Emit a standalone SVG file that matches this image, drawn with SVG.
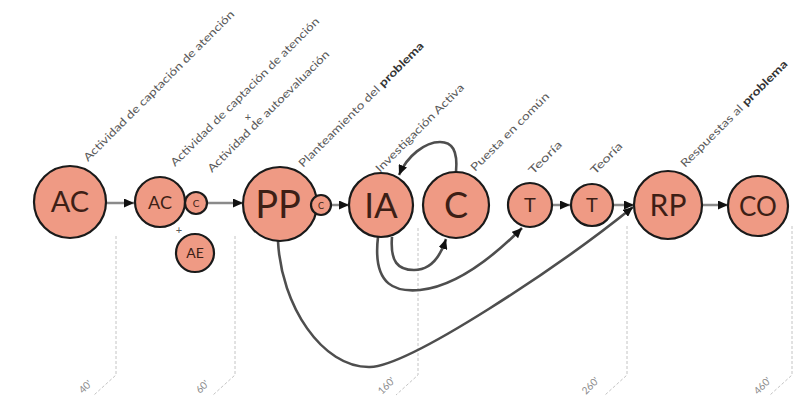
<svg xmlns="http://www.w3.org/2000/svg" width="796" height="404" viewBox="0 0 796 404">
<style>
.n{fill:#ef9a84;stroke:#1a1a1a;stroke-width:2.2}
.t{font-family:Lato,"Liberation Sans",sans-serif;font-weight:400;fill:#3d1f16;text-anchor:middle}
.l{font-family:Lato,"Liberation Sans",sans-serif;font-size:11px;fill:#5a5a5a}
.s{stroke:#8a8a8a;stroke-width:2.5;fill:none}
.c{stroke:#4e4e4e;stroke-width:2.6;fill:none}
.d{stroke:#c4c4c4;stroke-width:1;stroke-dasharray:3 2;fill:none}
.m{font-family:Lato,"Liberation Sans",sans-serif;font-size:10px;fill:#8a8a8a}
</style>
<defs>
<marker id="a" markerUnits="userSpaceOnUse" markerWidth="11" markerHeight="9" refX="10" refY="4.5" orient="auto">
<path d="M0,0 L10,4.5 L0,9 z" fill="#111"/>
</marker>
</defs>
<rect width="796" height="404" fill="#fff"/>
<g id="timeline">
<path class="d" d="M116,236 V375 L94,395"/>
<path class="d" d="M235,236 V375 L213,395"/>
<path class="d" d="M418,228 V375 L396,395"/>
<path class="d" d="M627,226 V375 L605,395"/>
<path class="d" d="M792,226 V375 L770,395"/>
<text class="m" x="83" y="394" transform="rotate(-45 83 394)">40'</text>
<text class="m" x="200" y="394" transform="rotate(-45 200 394)">60'</text>
<text class="m" x="382" y="395" transform="rotate(-45 382 395)">160'</text>
<text class="m" x="586" y="395" transform="rotate(-45 586 395)">260'</text>
<text class="m" x="758" y="395" transform="rotate(-45 758 395)">460'</text>
</g>
<g id="labels">
<text class="l" x="88" y="162" textLength="208" lengthAdjust="spacingAndGlyphs" transform="rotate(-45 88 162)">Actividad de captación de atención</text>
<text class="l" x="175" y="167" textLength="205" lengthAdjust="spacingAndGlyphs" transform="rotate(-45 175 167)">Actividad de captación de atención</text>
<text class="l" x="248" y="121" text-anchor="middle">+</text>
<text class="l" x="212" y="173" textLength="167" lengthAdjust="spacingAndGlyphs" transform="rotate(-45 212 173)">Actividad de autoevaluación</text>
<text class="l" x="303" y="168" textLength="172" lengthAdjust="spacingAndGlyphs" transform="rotate(-45 303 168)">Planteamiento del <tspan font-weight="bold" fill="#333">problema</tspan></text>
<text class="l" x="380" y="173" textLength="120" lengthAdjust="spacingAndGlyphs" transform="rotate(-45 380 173)">Investigación Activa</text>
<text class="l" x="475" y="172" textLength="106" lengthAdjust="spacingAndGlyphs" transform="rotate(-45 475 172)">Puesta en común</text>
<text class="l" x="533" y="175" textLength="42" lengthAdjust="spacingAndGlyphs" transform="rotate(-45 533 175)">Teoría</text>
<text class="l" x="595" y="175" textLength="40" lengthAdjust="spacingAndGlyphs" transform="rotate(-45 595 175)">Teoría</text>
<text class="l" x="685" y="168" textLength="146" lengthAdjust="spacingAndGlyphs" transform="rotate(-45 685 168)">Respuestas al <tspan font-weight="bold" fill="#333">problema</tspan></text>
</g>
<g id="connectors">
<line class="s" x1="107" y1="203" x2="134" y2="203" marker-end="url(#a)"/>
<line class="s" x1="207" y1="203" x2="243" y2="203" marker-end="url(#a)"/>
<line class="s" x1="331" y1="205" x2="349" y2="205" marker-end="url(#a)"/>
<line class="s" x1="552" y1="205" x2="570" y2="205" marker-end="url(#a)"/>
<line class="s" x1="613" y1="205" x2="634" y2="205" marker-end="url(#a)"/>
<line class="s" x1="702" y1="205" x2="728" y2="205" marker-end="url(#a)"/>
<path class="c" d="M456,172 C458,150 452,142 440,142 C425,142 407,156 399,175" marker-end="url(#a)"/>
<path class="c" d="M392,237 C390,262 398,270 414,270 C430,270 440,258 446,239" marker-end="url(#a)"/>
<path class="c" d="M378,237 C372,288 398,292 420,290 C460,286 500,250 522,228" marker-end="url(#a)"/>
<path class="c" d="M278,241 C281,305 322,368 370,367 C410,366 560,266 633,207" marker-end="url(#a)"/>
<text class="l" x="179" y="234" text-anchor="middle" font-size="10">+</text>
</g>
<g id="AC1"><circle class="n" cx="70" cy="202" r="36"/><text class="t" x="70" y="212" font-size="29">AC</text></g>
<g id="AC2"><circle class="n" cx="160" cy="202" r="25"/><text class="t" x="160" y="208.5" font-size="18">AC</text></g>
<g id="c1"><circle class="n" cx="196" cy="203" r="11" stroke-width="1.5"/><text class="t" x="196" y="206.5" font-size="10">C</text></g>
<g id="AE"><circle class="n" cx="195" cy="253" r="19" stroke-width="1.8"/><text class="t" x="195" y="258" font-size="14">AE</text></g>
<g id="PP"><circle class="n" cx="280" cy="204" r="37"/><text class="t" x="278" y="217.5" font-size="38">PP</text></g>
<g id="c2"><circle class="n" cx="321" cy="205" r="10" stroke-width="1.5"/><text class="t" x="321" y="208.5" font-size="9">C</text></g>
<g id="IA"><circle class="n" cx="381" cy="205" r="32"/><text class="t" x="381" y="217.5" font-size="35">IA</text></g>
<g id="C"><circle class="n" cx="456" cy="205" r="33"/><text class="t" x="456" y="218" font-size="36">C</text></g>
<g id="T1"><circle class="n" cx="530" cy="205" r="22"/><text class="t" x="530" y="212" font-size="20">T</text></g>
<g id="T2"><circle class="n" cx="592" cy="205" r="21"/><text class="t" x="592" y="212" font-size="20">T</text></g>
<g id="RP"><circle class="n" cx="668" cy="205" r="34"/><text class="t" x="668" y="216" font-size="30">RP</text></g>
<g id="CO"><circle class="n" cx="758" cy="206" r="30"/><text class="t" x="758" y="215.5" font-size="26">CO</text></g>
</svg>
